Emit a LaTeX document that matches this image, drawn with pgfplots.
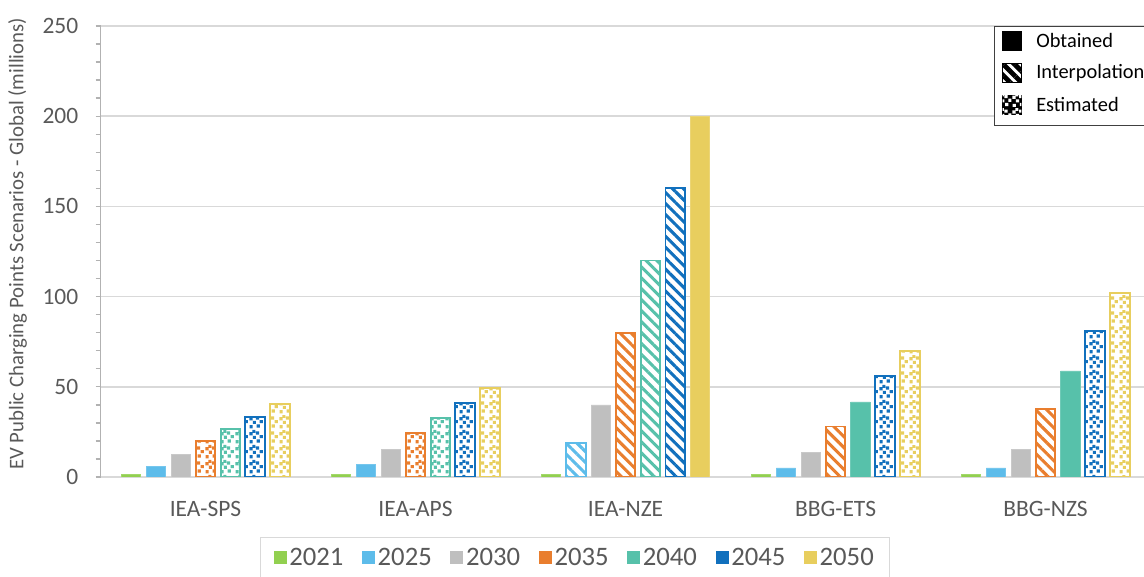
\documentclass[border=0pt]{standalone}
\usepackage{fontspec}
\setmainfont{Carlito}
\usepackage{pgfplots}
\pgfplotsset{compat=1.18}
\usetikzlibrary{patterns,patterns.meta}

\definecolor{c2021}{HTML}{92D050}
\definecolor{c2025}{HTML}{5DBCEA}
\definecolor{c2030}{HTML}{BFBFBF}
\definecolor{c2035}{HTML}{E97E2E}
\definecolor{c2040}{HTML}{57C1AA}
\definecolor{c2045}{HTML}{1170BD}
\definecolor{c2050}{HTML}{E8CE5E}
\definecolor{txt}{HTML}{595959}
\definecolor{grd}{HTML}{D9D9D9}

% small scattered squares, as in the "Estimated" bars
\pgfdeclarepatternformonly{confetti}{\pgfpointorigin}{\pgfpoint{11pt}{11pt}}{\pgfpoint{11pt}{11pt}}{%
  \pgfpathrectangle{\pgfpoint{0.4pt}{0.5pt}}{\pgfpoint{2.4pt}{2.4pt}}%
  \pgfpathrectangle{\pgfpoint{5.9pt}{1.1pt}}{\pgfpoint{2.4pt}{2.4pt}}%
  \pgfpathrectangle{\pgfpoint{2.9pt}{3.9pt}}{\pgfpoint{2.4pt}{2.4pt}}%
  \pgfpathrectangle{\pgfpoint{8.2pt}{4.4pt}}{\pgfpoint{2.4pt}{2.4pt}}%
  \pgfpathrectangle{\pgfpoint{0.3pt}{6.6pt}}{\pgfpoint{2.4pt}{2.4pt}}%
  \pgfpathrectangle{\pgfpoint{5.3pt}{7.2pt}}{\pgfpoint{2.4pt}{2.4pt}}%
  \pgfpathrectangle{\pgfpoint{2.6pt}{8.5pt}}{\pgfpoint{2.2pt}{2.2pt}}%
  \pgfusepath{fill}}

\pgfplotsset{
  solidb/.style={fill=#1, draw=#1!85!white, line width=0.5pt, forget plot},
  stripeb/.style={fill=white, draw=#1, line width=1.4pt, forget plot,
    postaction={pattern={Lines[angle=-45,distance=5.8pt,line width=2.3pt]}, pattern color=#1}},
  dotb/.style={fill=white, draw=#1, line width=1.5pt, forget plot,
    postaction={pattern=confetti, pattern color=#1}},
}

\newcommand{\legsq}[2]{\addlegendimage{legend image code/.code={\fill[#1] (0pt,-4.5pt) rectangle (9pt,4.5pt);}}\addlegendentry{#2}}

\begin{document}
\begin{tikzpicture}[x=1pt,y=1pt]
\useasboundingbox (0,0) rectangle (858,432.75);
\clip (0,0) rectangle (858,432.75);
\begin{axis}[
  at={(75.4pt,75pt)}, anchor=south west,
  scale only axis, width=787.5pt, height=338.25pt,
  xmin=-0.5, xmax=4.5, ymin=0, ymax=250,
  ybar, bar width=14.5pt,
  xtick={0,...,4},
  xticklabels={IEA-SPS,IEA-APS,IEA-NZE,BBG-ETS,BBG-NZS},
  ytick={0,50,...,250}, minor y tick num=4,
  axis lines*=left,
  ymajorgrids, grid style={grd, line width=1.1pt},
  x axis line style={grd, line width=1.1pt},
  y axis line style={black!30, line width=1.1pt},
  tick align=outside, major tick length=3.75pt, minor tick length=3.75pt,
  ytick style={black!30, line width=1pt},
  xtick style={draw=none},
  tick label style={font=\fontsize{17.6}{20}\selectfont, text=txt},
  /pgf/number format/assume math mode=true,
  yticklabel style={inner sep=0pt, anchor=east, xshift=-12.8pt},
  xticklabel style={inner sep=0pt, anchor=base, yshift=-26pt},
  ylabel={EV Public Charging Points Scenarios - Global (millions)},
  every axis y label/.style={at={(axis description cs:-0.079,0.517)}, rotate=90,
    anchor=center, font=\fontsize{15.6}{18}\selectfont, text=txt},
  legend style={at={(0.4519,-0.133)}, anchor=north, legend columns=-1,
    draw=grd, line width=0.75pt, font=\fontsize{20}{24}\selectfont, text=txt,
    inner xsep=10pt, inner ysep=6pt,
    /tikz/every even column/.append style={column sep=12pt}},
]
% 2021
\addplot[solidb=c2021, bar shift=-55.8pt] coordinates {(0,1.3) (1,1.5) (2,1.5) (3,1.5) (4,1.5)};
% 2025
\addplot[solidb=c2025, bar shift=-37.2pt] coordinates {(0,6) (1,6.8) (3,5) (4,5)};
\addplot[stripeb=c2025, bar shift=-37.2pt] coordinates {(2,19)};
% 2030
\addplot[solidb=c2030, bar shift=-18.6pt] coordinates {(0,12.4) (1,15.2) (2,40) (3,13.6) (4,15.4)};
% 2035
\addplot[dotb=c2035, bar shift=0pt] coordinates {(0,20) (1,24.2)};
\addplot[stripeb=c2035, bar shift=0pt] coordinates {(2,80) (3,28) (4,37.5)};
% 2040
\addplot[dotb=c2040, bar shift=18.6pt] coordinates {(0,26.6) (1,32.5)};
\addplot[stripeb=c2040, bar shift=18.6pt] coordinates {(2,120)};
\addplot[solidb=c2040, bar shift=18.6pt] coordinates {(3,41.6) (4,58.8)};
% 2045
\addplot[dotb=c2045, bar shift=37.2pt] coordinates {(0,33.4) (1,40.8) (3,56) (4,80.8)};
\addplot[stripeb=c2045, bar shift=37.2pt] coordinates {(2,160)};
% 2050
\addplot[dotb=c2050, bar shift=55.8pt] coordinates {(0,40.3) (1,49.2) (3,70) (4,102)};
\addplot[solidb=c2050, bar shift=55.8pt] coordinates {(2,200)};

\legsq{c2021}{2021}
\legsq{c2025}{2025}
\legsq{c2030}{2030}
\legsq{c2035}{2035}
\legsq{c2040}{2040}
\legsq{c2045}{2045}
\legsq{c2050}{2050}
\end{axis}

% data-type key, top right
\draw[black!75, line width=0.75pt, fill=white] (745.5,338.25) rectangle (880,412.5);
\fill[black] (751.5,394.5) rectangle (766.5,409.5);
\draw[black, line width=0.8pt, fill=white,
  postaction={pattern={Lines[angle=-45,distance=6pt,line width=3.6pt]}, pattern color=black}]
  (752,371) rectangle (766,385);
\draw[black, line width=0.8pt, fill=black,
  postaction={pattern=confetti, pattern color=white}]
  (752,347) rectangle (766,361);
\begin{scope}[every node/.style={anchor=west, inner sep=0pt, font=\fontsize{15.3}{18}\selectfont}]
\node at (777,402) {Obtained};
\node at (777,378) {Interpolation};
\node at (777,354) {Estimated};
\end{scope}
\end{tikzpicture}
\end{document}
